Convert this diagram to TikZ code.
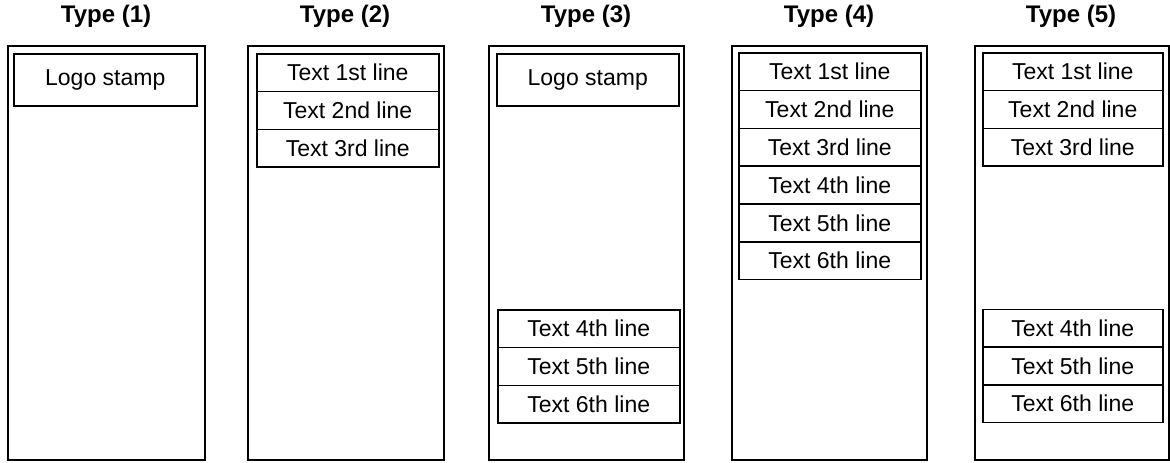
\documentclass[tikz,border=0pt]{standalone}
\usepackage{fontspec}
\setmainfont{Liberation Sans}
\begin{document}
\begin{tikzpicture}[x=1pt,y=-1pt,
  outerbox/.style={draw,line width=1.5pt,inner sep=0pt,minimum width=196pt,minimum height=414pt,anchor=north west},
  cell/.style={draw,line width=1.5pt,inner sep=0pt,minimum width=182pt,minimum height=37.8pt,anchor=north west,font=\fontsize{23}{26}\selectfont},
  logo/.style={cell,minimum height=52pt},
  title/.style={font=\fontsize{24}{28}\selectfont\bfseries}]
\useasboundingbox (0,0) rectangle (1170,463);
% titles
\node[title] (t1) at (106,16) {Type (1)};
\node[title] (t2) at (345,16) {Type (2)};
\node[title] (t3) at (586,16) {Type (3)};
\node[title] (t4) at (829,16) {Type (4)};
\node[title] (t5) at (1071,16) {Type (5)};
% outer boxes
\node[outerbox,minimum width=197pt] (o1) at (7,45) {};
\node[outerbox,minimum width=196pt] (o2) at (247,45) {};
\node[outerbox,minimum width=195pt] (o3) at (488,45) {};
\node[outerbox,minimum width=195pt] (o4) at (731,45) {};
\node[outerbox,minimum width=194pt] (o5) at (974,45) {};
% type 1
\node[logo,minimum width=183pt] (l1) at (13,53) {Logo stamp};
% type 2
\node[cell] (a1) at (256,53) {Text 1st line};
\node[cell] (a2) at (256,90.8) {Text 2nd line};
\node[cell] (a3) at (256,128.6) {Text 3rd line};
% type 3
\node[logo] (l3) at (496,53) {Logo stamp};
\node[cell] (b4) at (497,309) {Text 4th line};
\node[cell] (b5) at (497,346.8) {Text 5th line};
\node[cell] (b6) at (497,384.6) {Text 6th line};
% type 4
\node[cell] (c1) at (738,52) {Text 1st line};
\node[cell] (c2) at (738,89.8) {Text 2nd line};
\node[cell] (c3) at (738,127.6) {Text 3rd line};
\node[cell] (c4) at (738,165.4) {Text 4th line};
\node[cell] (c5) at (738,203.2) {Text 5th line};
\node[cell] (c6) at (738,241) {Text 6th line};
% type 5
\node[cell,minimum width=180pt] (d1) at (982,52) {Text 1st line};
\node[cell,minimum width=180pt] (d2) at (982,89.8) {Text 2nd line};
\node[cell,minimum width=180pt] (d3) at (982,127.6) {Text 3rd line};
\node[cell,minimum width=180pt] (d4) at (982,308.5) {Text 4th line};
\node[cell,minimum width=180pt] (d5) at (982,346.3) {Text 5th line};
\node[cell,minimum width=180pt] (d6) at (982,384.1) {Text 6th line};
\end{tikzpicture}
\end{document}
